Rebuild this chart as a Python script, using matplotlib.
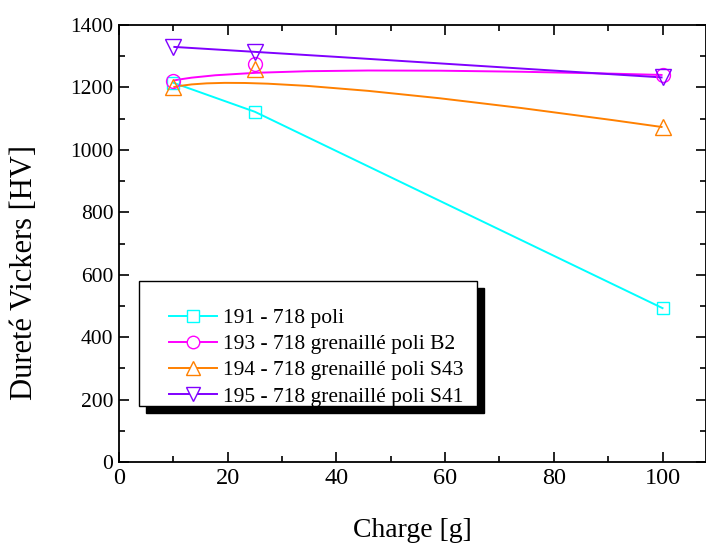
import matplotlib
matplotlib.use("Agg")
import matplotlib.pyplot as plt
from matplotlib.path import Path
from matplotlib.patches import PathPatch, Rectangle
from matplotlib.lines import Line2D
from matplotlib.ticker import MultipleLocator

# data
charge = [10, 25, 100]
poli_191 = [1215, 1122, 493]
b2_193 = [1222, 1276, 1240]
s43_194 = [1201, 1259, 1073]
s41_195 = [1330, 1315, 1232]

labels = ["191 - 718 poli",
          "193 - 718 grenaillé poli B2",
          "194 - 718 grenaillé poli S43",
          "195 - 718 grenaillé poli S41"]
colors = ["#00FFFF", "#FF00FF", "#FF8000", "#8000FF"]
markers = ["s", "o", "^", "v"]
msizes = [9, 10, 11, 11]
series = [poli_191, b2_193, s43_194, s41_195]
smooth = [False, True, True, True]

plt.rcParams['font.family'] = ['Liberation Serif', 'DejaVu Serif']

fig = plt.figure(figsize=(7.06, 5.44), dpi=100)
ax = fig.add_axes([0.1686, 0.1507, 0.8314, 0.8033])

handles = []
for ys, c, m, ms, lab, sm in zip(series, colors, markers, msizes, labels, smooth):
    if sm:
        # Origin style B-spline: quadratic bezier through the 3 control points
        path = Path(list(zip(charge, ys)), [Path.MOVETO, Path.CURVE3, Path.CURVE3])
        ax.add_patch(PathPatch(path, facecolor="none", edgecolor=c, lw=1.4, zorder=2))
    else:
        ax.plot(charge, ys, color=c, lw=1.4, zorder=2)
    ax.plot(charge, ys, linestyle="none", marker=m, markersize=ms,
            markerfacecolor="none", markeredgecolor=c, markeredgewidth=1.0, zorder=3)
    handles.append(Line2D([], [], color=c, lw=1.4, marker=m, markersize=ms - 1,
                          markerfacecolor="white", markeredgecolor=c, markeredgewidth=1.0))

ax.set_xlim(0, 108)
ax.set_ylim(0, 1400)
ax.xaxis.set_major_locator(MultipleLocator(20))
ax.xaxis.set_minor_locator(MultipleLocator(10))
ax.yaxis.set_major_locator(MultipleLocator(200))
ax.yaxis.set_minor_locator(MultipleLocator(100))
ax.tick_params(which="both", direction="in", top=True, right=True, width=1.2)
ax.tick_params(which="major", length=7, pad=4)
ax.tick_params(which="minor", length=4)
ax.tick_params(axis="x", labelsize=17.5)
ax.tick_params(axis="y", labelsize=15.5)
for s in ax.spines.values():
    s.set_linewidth(1.3)

ax.set_xlabel("Charge [g]", fontsize=20, labelpad=21)
ax.set_ylabel("Dureté Vickers [HV]", fontsize=22)
ax.yaxis.set_label_coords(-0.137, 0.434)

# legend box with black shadow drawn by hand
x0, y0, w, h = 0.034, 0.128, 0.576, 0.286
ax.add_patch(Rectangle((x0 + 0.012, y0 - 0.016), w, h, transform=ax.transAxes,
                       facecolor="black", edgecolor="black", zorder=4))
ax.add_patch(Rectangle((x0, y0), w, h, transform=ax.transAxes,
                       facecolor="white", edgecolor="black", lw=1.0, zorder=5))
leg = ax.legend(handles, labels, loc="upper left", bbox_to_anchor=(0.085, 0.352),
                frameon=False, fontsize=15.5, handlelength=2.25, handletextpad=0.25,
                labelspacing=0.28, borderaxespad=0, borderpad=0)
leg.set_zorder(6)

fig.savefig("out.png", dpi=100)
